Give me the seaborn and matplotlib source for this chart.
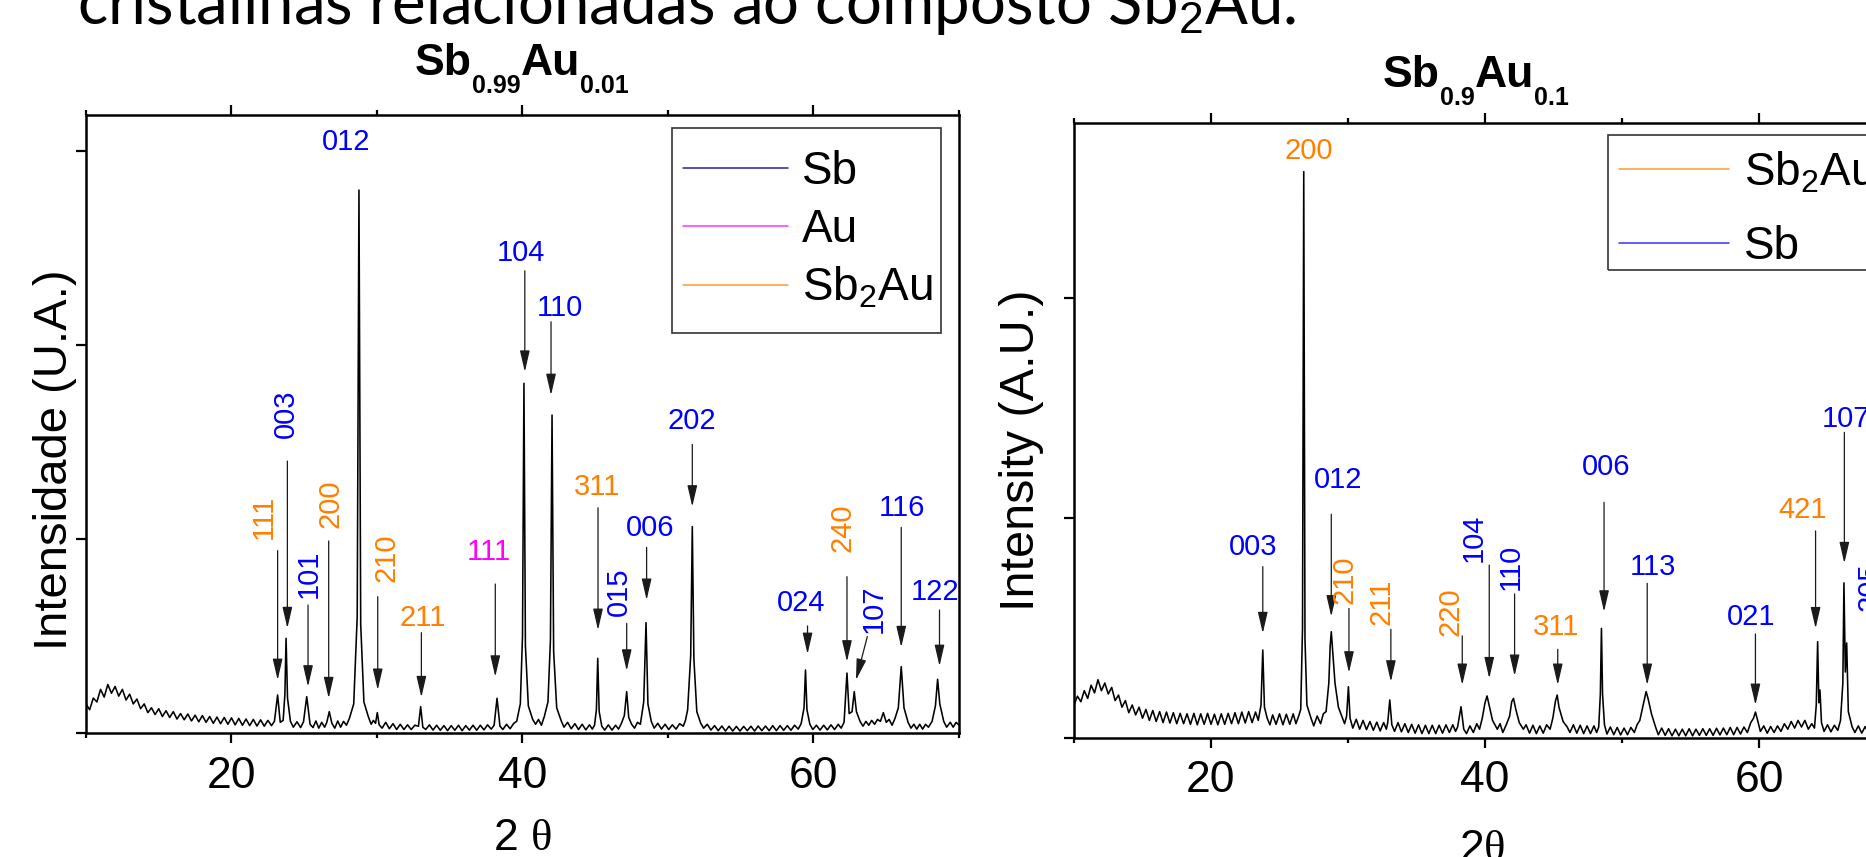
import matplotlib
matplotlib.use("Agg")
import matplotlib.pyplot as plt
from matplotlib.lines import Line2D
from matplotlib.patches import Rectangle
from matplotlib.ticker import NullLocator
import seaborn as sns
import pandas as pd

# ---------------- data: Sb0.99Au0.01 pattern (2theta, intensity) ----------------
left_pattern = [
    (10.0, 150), (10.25, 120), (10.5, 180), (10.75, 160), (11.0, 225), (11.25, 185), (11.5, 250),
    (11.75, 205), (12.0, 240), (12.25, 190), (12.5, 225), (12.75, 170), (13.0, 200), (13.25, 150),
    (13.5, 175), (13.75, 125), (14.0, 150), (14.25, 105), (14.5, 130), (14.75, 95), (15.0, 125),
    (15.25, 85), (15.5, 115), (15.75, 80), (16.0, 110), (16.25, 72), (16.5, 100), (16.75, 68),
    (17.0, 98), (17.25, 62), (17.5, 92), (17.75, 58), (18.0, 90), (18.25, 55), (18.5, 85),
    (18.75, 50), (19.0, 82), (19.25, 48), (19.5, 80), (19.75, 45), (20.0, 78), (20.25, 42),
    (20.5, 75), (20.75, 40), (21.0, 72), (21.25, 38), (21.5, 70), (21.75, 36), (22.0, 68),
    (22.25, 35), (22.5, 65), (22.75, 38),
    (22.95, 60), (23.17, 196), (23.35, 55), (23.55, 65), (23.67, 200), (23.75, 488), (23.85, 180),
    (24.05, 60), (24.25, 30), (24.5, 58), (24.75, 28), (24.95, 58), (25.17, 187), (25.4, 45),
    (25.6, 28), (25.8, 62), (26.0, 25), (26.2, 55), (26.4, 30), (26.55, 55), (26.72, 110), (26.9, 50),
    (27.1, 25), (27.3, 62), (27.5, 30), (27.7, 60), (27.9, 40), (28.1, 75), (28.4, 150), (28.64, 600),
    (28.76, 2799), (28.88, 560), (29.1, 160), (29.4, 85), (29.6, 45), (29.75, 65), (29.9, 50),
    (30.02, 105), (30.15, 42), (30.35, 25), (30.6, 55), (30.85, 22), (31.1, 48), (31.35, 18),
    (31.6, 45), (31.85, 18), (32.1, 42), (32.35, 18), (32.6, 40), (32.85, 35), (33.0, 136), (33.15, 30),
    (33.35, 18), (33.6, 42), (33.85, 15), (34.1, 40), (34.35, 14), (34.6, 38), (34.85, 12), (35.1, 38),
    (35.35, 14), (35.6, 40), (35.85, 12), (36.1, 38), (36.35, 15), (36.6, 40), (36.85, 14), (37.1, 40),
    (37.35, 16), (37.6, 42), (37.85, 20), (38.05, 40), (38.25, 179), (38.45, 35), (38.65, 18),
    (38.9, 45), (39.15, 22), (39.4, 50), (39.6, 60), (39.85, 150), (40.0, 500), (40.1, 1803),
    (40.2, 450), (40.4, 140), (40.7, 70), (40.9, 45), (41.1, 70), (41.3, 40), (41.5, 85),
    (41.75, 160), (41.92, 480), (42.03, 1639), (42.14, 420), (42.35, 130), (42.65, 65), (42.85, 30),
    (43.1, 55), (43.35, 22), (43.6, 48), (43.85, 18), (44.1, 45), (44.35, 16), (44.6, 42), (44.8, 20),
    (44.95, 40), (45.08, 120), (45.17, 385), (45.27, 110), (45.45, 35), (45.65, 15), (45.9, 42),
    (46.15, 15), (46.4, 40), (46.6, 20), (46.8, 50), (47.0, 90), (47.16, 213), (47.3, 80), (47.5, 45),
    (47.7, 25), (47.9, 55), (48.1, 45), (48.33, 160), (48.49, 569), (48.62, 150), (48.85, 60),
    (49.05, 25), (49.3, 50), (49.55, 20), (49.8, 45), (50.05, 18), (50.3, 42), (50.55, 20), (50.8, 48),
    (51.05, 35), (51.2, 65), (51.35, 120), (51.56, 400), (51.67, 1064), (51.78, 380), (51.98, 110),
    (52.25, 50), (52.45, 25), (52.7, 45), (52.95, 15), (53.2, 38), (53.45, 12), (53.7, 36), (53.95, 10),
    (54.2, 35), (54.45, 10), (54.7, 34), (54.95, 10), (55.2, 34), (55.45, 12), (55.7, 35), (55.95, 10),
    (56.2, 36), (56.45, 12), (56.7, 36), (56.95, 12), (57.2, 38), (57.45, 12), (57.7, 38), (57.95, 14),
    (58.2, 38), (58.45, 14), (58.7, 40), (58.95, 20), (59.15, 48), (59.35, 130), (59.45, 325),
    (59.55, 120), (59.75, 45), (59.95, 18), (60.2, 40), (60.45, 15), (60.7, 40), (60.95, 16), (61.2, 42),
    (61.45, 18), (61.7, 45), (61.9, 25), (62.1, 55), (62.3, 309), (62.45, 100), (62.65, 110), (62.8, 213),
    (62.95, 110), (63.2, 60), (63.4, 35), (63.6, 60), (63.8, 40), (64.0, 65), (64.2, 45), (64.4, 70),
    (64.6, 60), (64.8, 105), (65.0, 55), (65.2, 70), (65.4, 40), (65.6, 75), (65.83, 130), (66.03, 342),
    (66.22, 130), (66.5, 55), (66.7, 25), (66.9, 45), (67.1, 20), (67.3, 45), (67.5, 20), (67.7, 45),
    (67.9, 30), (68.15, 60), (68.38, 140), (68.53, 277), (68.68, 150), (68.95, 60), (69.15, 30),
    (69.4, 55), (69.6, 30), (69.8, 55), (70.0, 40)]

# ---------------- data: Sb0.9Au0.1 pattern (2theta, intensity) ----------------
right_pattern = [
    (10.0, 150), (10.25, 190), (10.5, 165), (10.75, 215), (11.0, 180), (11.25, 240), (11.5, 205),
    (11.75, 265), (12.0, 215), (12.25, 250), (12.5, 200), (12.75, 230), (13.0, 170), (13.25, 195),
    (13.5, 140), (13.75, 170), (14.0, 115), (14.25, 150), (14.5, 105), (14.75, 140), (15.0, 90),
    (15.25, 130), (15.5, 80), (15.75, 125), (16.0, 75), (16.25, 120), (16.5, 70), (16.75, 118),
    (17.0, 68), (17.25, 115), (17.5, 65), (17.75, 112), (18.0, 65), (18.25, 110), (18.5, 62),
    (18.75, 112), (19.0, 60), (19.25, 110), (19.5, 62), (19.75, 112), (20.0, 62), (20.25, 108),
    (20.5, 60), (20.75, 110), (21.0, 62), (21.25, 112), (21.5, 65), (21.75, 115), (22.0, 65),
    (22.25, 118), (22.5, 68), (22.75, 120), (23.0, 70), (23.25, 118), (23.45, 80),
    (23.65, 150), (23.78, 400), (23.9, 140), (24.1, 90), (24.3, 60), (24.5, 105), (24.75, 62),
    (25.0, 110), (25.25, 60), (25.5, 108), (25.75, 62), (26.0, 110), (26.2, 65), (26.4, 100),
    (26.55, 130), (26.68, 500), (26.77, 2574), (26.86, 450), (27.0, 150), (27.3, 90), (27.5, 55),
    (27.75, 100), (28.0, 65), (28.2, 110), (28.4, 120), (28.6, 250), (28.7, 420), (28.78, 483),
    (28.9, 380), (29.05, 250), (29.3, 140), (29.6, 90), (29.75, 65), (29.9, 100), (30.03, 233),
    (30.15, 90), (30.35, 45), (30.6, 85), (30.85, 40), (31.1, 80), (31.35, 38), (31.6, 75), (31.85, 35),
    (32.1, 72), (32.35, 32), (32.6, 70), (32.8, 40), (32.9, 70), (33.05, 173), (33.2, 60), (33.4, 30),
    (33.65, 70), (33.9, 28), (34.15, 65), (34.4, 25), (34.65, 62), (34.9, 22), (35.15, 60), (35.4, 20),
    (35.65, 58), (35.9, 20), (36.15, 58), (36.4, 20), (36.65, 58), (36.9, 22), (37.15, 60), (37.4, 25),
    (37.65, 60), (37.85, 30), (38.0, 50), (38.25, 142), (38.45, 40), (38.65, 20), (38.9, 55),
    (39.15, 25), (39.4, 65), (39.6, 40), (39.8, 90), (40.0, 160), (40.15, 191), (40.3, 150),
    (40.55, 80), (40.9, 40), (41.1, 65), (41.3, 25), (41.55, 60), (41.8, 100), (41.95, 165),
    (42.08, 180), (42.25, 130), (42.5, 70), (42.8, 40), (43.0, 60), (43.25, 22), (43.5, 58),
    (43.75, 20), (44.0, 55), (44.25, 22), (44.5, 60), (44.75, 40), (44.95, 90), (45.15, 170),
    (45.27, 195), (45.4, 140), (45.7, 75), (46.0, 50), (46.2, 25), (46.45, 60), (46.7, 22), (46.95, 58),
    (47.2, 20), (47.45, 55), (47.7, 20), (47.95, 55), (48.15, 25), (48.3, 50), (48.42, 200), (48.5, 498),
    (48.58, 200), (48.72, 60), (48.9, 18), (49.15, 50), (49.4, 15), (49.65, 48), (49.9, 14),
    (50.15, 45), (50.4, 15), (50.65, 48), (50.9, 25), (51.1, 60), (51.3, 80), (51.55, 150),
    (51.76, 211), (51.9, 180), (52.15, 110), (52.45, 50), (52.65, 15), (52.9, 45), (53.15, 12),
    (53.4, 42), (53.65, 10), (53.9, 40), (54.15, 10), (54.4, 40), (54.65, 10), (54.9, 42), (55.15, 10),
    (55.4, 40), (55.65, 12), (55.9, 42), (56.15, 12), (56.4, 42), (56.65, 12), (56.9, 44), (57.15, 14),
    (57.4, 45), (57.65, 15), (57.9, 48), (58.15, 15), (58.4, 48), (58.65, 18), (58.9, 50), (59.15, 25),
    (59.4, 70), (59.6, 90), (59.74, 118), (59.9, 80), (60.1, 30), (60.35, 55), (60.6, 22), (60.85, 52),
    (61.1, 25), (61.35, 55), (61.6, 30), (61.85, 65), (62.1, 40), (62.35, 75), (62.6, 45), (62.85, 80),
    (63.1, 50), (63.35, 80), (63.6, 40), (63.85, 65), (64.05, 45), (64.18, 150), (64.28, 438),
    (64.37, 160), (64.45, 218), (64.56, 70), (64.75, 30), (65.0, 60), (65.25, 28), (65.5, 58),
    (65.75, 35), (65.95, 80), (66.12, 250), (66.2, 705), (66.3, 300), (66.4, 432), (66.52, 120),
    (66.8, 50), (67.0, 25), (67.25, 55), (67.5, 22), (67.75, 52), (68.0, 20), (68.25, 50), (68.5, 22),
    (68.75, 50), (69.0, 20), (69.25, 48), (69.5, 22), (69.75, 50), (70.0, 30)]

# ---------------- peak labels ----------------
left_hkl = ["012", "104", "110", "003", "111", "101", "200", "210", "211", "111",
            "311", "015", "006", "202", "024", "240", "107", "116", "122"]
left_phase = ["Sb", "Sb", "Sb", "Sb", "Sb2Au", "Sb", "Sb2Au", "Sb2Au", "Sb2Au", "Au",
              "Sb2Au", "Sb", "Sb", "Sb", "Sb", "Sb2Au", "Sb", "Sb", "Sb"]
right_hkl = ["200", "003", "012", "210", "211", "220", "104", "110", "311", "006",
             "113", "021", "421", "107", "205"]
right_phase = ["Sb2Au", "Sb", "Sb", "Sb2Au", "Sb2Au", "Sb2Au", "Sb", "Sb", "Sb2Au", "Sb",
               "Sb", "Sb", "Sb2Au", "Sb", "Sb"]

left_legend = ["Sb", "Au", r"Sb$_\mathrm{2}$Au"]
right_legend = [r"Sb$_\mathrm{2}$Au", "Sb"]
# title pieces: (text, is_subscript)
left_title = [("Sb", False), ("0.99", True), ("Au", False), ("0.01", True)]
right_title = [("Sb", False), ("0.9", True), ("Au", False), ("0.1", True)]

# ---------------- layout of labels (text x, text y, rotation) and arrows ----------------
left_label_pos = [(27.91, 3048, 0), (39.86, 2473, 0), (42.6, 2189, 0), (23.72, 1644, 90),
    (22.19, 1112, 90), (25.33, 820, 90), (26.82, 1180, 90), (30.67, 902, 90), (33.12, 591, 0),
    (37.7, 933, 0), (45.1, 1270, 0), (46.63, 728, 90), (48.74, 1055, 0), (51.67, 1608, 0),
    (59.14, 668, 0), (61.96, 1060, 90), (64.14, 643, 90), (66.08, 1158, 0), (68.35, 728, 0)]
left_arrows = [None, (40.16, 2383, 40.16, 1862), (41.96, 2120, 41.96, 1742), (23.84, 1402, 23.84, 540),
    (23.17, 940, 23.17, 273), (25.26, 660, 25.26, 239), (26.68, 990, 26.68, 179), (30.05, 703, 30.05, 222),
    (33.05, 517, 33.05, 184), (38.13, 768, 38.13, 290), (45.19, 1161, 45.19, 531), (47.16, 565, 47.16, 321),
    (48.53, 957, 48.53, 686), (51.67, 1488, 51.67, 1167), (59.59, 552, 59.59, 407), (62.3, 806, 62.3, 368),
    (63.7, 497, 62.92, 273), (66.03, 1060, 66.03, 442), (68.66, 634, 68.66, 345)]
right_label_pos = [(27.12, 2670, 0), (23.1, 870, 0), (29.3, 1173, 0), (29.74, 718, 90),
    (32.45, 617, 90), (37.45, 574, 90), (39.18, 908, 90), (41.88, 779, 90), (45.18, 506, 0),
    (48.85, 1233, 0), (52.28, 779, 0), (59.46, 552, 0), (63.21, 1036, 0), (66.35, 1450, 0),
    (68.05, 688, 90)]
right_arrows = [None, (23.78, 779, 23.78, 476), (28.78, 1017, 28.78, 552), (30.07, 589, 30.07, 297),
    (33.13, 494, 33.13, 256), (38.34, 464, 38.34, 241), (40.31, 786, 40.31, 271), (42.16, 655, 42.16, 282),
    (45.31, 403, 45.31, 241), (48.69, 1071, 48.69, 574), (51.84, 703, 51.84, 241), (59.74, 473, 59.74, 150),
    (64.13, 941, 64.13, 498), (66.23, 1389, 66.23, 794), None]

TEXT_COL = {"Sb": "#0000ff", "Sb2Au": "#ff7f00", "Au": "#ff00ff"}

# ---------------- style ----------------
sns.set_theme(style="ticks")
plt.rcParams["font.family"] = ["Liberation Sans", "DejaVu Sans"]
plt.rcParams["mathtext.fontset"] = "custom"
plt.rcParams["mathtext.rm"] = "Liberation Sans"
plt.rcParams["mathtext.bf"] = "Liberation Sans:bold"
plt.rcParams["mathtext.it"] = "Liberation Sans:italic"
plt.rcParams["mathtext.sf"] = "Liberation Serif"
plt.rcParams["axes.edgecolor"] = "black"
plt.rcParams["xtick.color"] = "black"
plt.rcParams["ytick.color"] = "black"
plt.rcParams["text.color"] = "black"

W, H = 1866, 857
fig = plt.figure(figsize=(W / 100, H / 100), dpi=100)


def px_axes(l, r, t, b):
    return fig.add_axes([l / W, 1 - b / H, (r - l) / W, (b - t) / H])


ax1 = px_axes(86, 959, 115, 733)
ax2 = px_axes(1074, 1896, 123, 738)

df_left = pd.DataFrame(left_pattern, columns=["two_theta", "intensity"])
df_right = pd.DataFrame(right_pattern, columns=["two_theta", "intensity"])
sns.lineplot(data=df_left, x="two_theta", y="intensity", ax=ax1, color="black",
             linewidth=1.15, estimator=None, sort=False)
sns.lineplot(data=df_right, x="two_theta", y="intensity", ax=ax2, color="black",
             linewidth=1.15, estimator=None, sort=False)


def style(ax, ytop, yticks):
    ax.set_xlim(10, 70)
    ax.set_ylim(0, ytop)
    ax.set_xticks([20, 40, 60])
    ax.set_xticks([10, 30, 50, 70], minor=True)
    ax.set_yticks(yticks)
    ax.set_yticklabels([])
    ax.yaxis.set_minor_locator(NullLocator())
    ax.tick_params(axis="x", which="both", direction="out", top=True, bottom=True,
                   labeltop=False, width=1.6)
    ax.tick_params(axis="x", which="major", length=7.2, pad=9.0, labelsize=32)
    ax.tick_params(axis="x", which="minor", length=3.6)
    ax.tick_params(axis="y", which="major", direction="out", left=True, right=False,
                   length=7.2, width=1.6)
    for s in ax.spines.values():
        s.set_visible(True)
        s.set_linewidth(1.8)
        s.set_color("black")
    ax.set_xlabel("")
    ax.set_ylabel("")
    ax.grid(False)


style(ax1, 3186, [0, 1000, 2000, 3000])
style(ax2, 2795, [0, 1000, 2000])


def label_peaks(ax, hkl, phase, pos, arrows):
    for s, ph, (tx, ty, rot), arr in zip(hkl, phase, pos, arrows):
        ax.text(tx, ty, s, color=TEXT_COL[ph], fontsize=21, rotation=rot,
                ha="center", va="center")
        if arr is not None:
            ax.annotate("", xy=(arr[2], arr[3]), xytext=(arr[0], arr[1]),
                        arrowprops=dict(arrowstyle="-|>,head_length=1.3,head_width=0.3",
                                        color="#1a1a1a", lw=0.9, shrinkA=0, shrinkB=0,
                                        mutation_scale=10))


label_peaks(ax1, left_hkl, left_phase, left_label_pos, left_arrows)
label_peaks(ax2, right_hkl, right_phase, right_label_pos, right_arrows)

# legends (content) + their frames
h_left = [Line2D([], [], color="#1f1fa8", lw=1.1), Line2D([], [], color="#ff33ff", lw=1.1),
          Line2D([], [], color="#ff9a33", lw=1.1)]
ax1.legend(h_left, left_legend, loc="upper left", bbox_to_anchor=(683 / W, 1 - 150 / H),
           bbox_transform=fig.transFigure, fontsize=33, frameon=False,
           borderpad=0, labelspacing=0.3, handlelength=2.3, handletextpad=0.3,
           borderaxespad=0)
h_right = [Line2D([], [], color="#ff9a33", lw=1.1), Line2D([], [], color="#3333ff", lw=1.1)]
ax2.legend(h_right, right_legend, loc="upper left", bbox_to_anchor=(1619 / W, 1 - 150 / H),
           bbox_transform=fig.transFigure, fontsize=33, frameon=False,
           borderpad=0, labelspacing=0.65, handlelength=2.4, handletextpad=0.33,
           borderaxespad=0)
ax1.add_patch(Rectangle((672 / W, 1 - 333 / H), (941 - 672) / W, (333 - 128) / H,
                        transform=fig.transFigure, fill=False, edgecolor="#333333",
                        linewidth=1.2, clip_on=False))
ax2.add_patch(Rectangle((1608 / W, 1 - 270 / H), (1900 - 1608) / W, (270 - 135) / H,
                        transform=fig.transFigure, fill=False, edgecolor="#333333",
                        linewidth=1.2, clip_on=False))


# titles built from pieces so the subscripts sit low like in the original
def place_title(parts, cx, base, fs_main=32, fs_sub=18, drop=18):
    texts = [fig.text(0, 0, s, fontsize=fs_sub if sub else fs_main, fontweight="bold",
                      ha="left", va="baseline") for s, sub in parts]
    fig.canvas.draw()
    r = fig.canvas.get_renderer()
    widths = [t.get_window_extent(r).width for t in texts]
    x = cx - sum(widths) / 2
    for t, w, (s, sub) in zip(texts, widths, parts):
        t.set_position((x / W, 1 - (base + (drop if sub else 0)) / H))
        x += w


place_title(left_title, 522, 75)
place_title(right_title, 1476, 87)

fig.text(55 / W, 1 - 460 / H, "Intensidade (U.A.)", rotation=90, fontsize=34,
         ha="center", va="center")
fig.text(1022 / W, 1 - 450 / H, "Intensity (A.U.)", rotation=90, fontsize=35,
         ha="center", va="center")
fig.text(522 / W, 1 - 850 / H, r"2 $\mathsf{\theta}$", fontsize=32, ha="center", va="baseline")
fig.text(1482 / W, 1 - 861 / H, r"2$\mathsf{\theta}$", fontsize=32, ha="center", va="baseline")

# slide caption cut at the top
cap = fig.text(77 / W, 1 - 24 / H, r"cristalinas relacionadas ao composto Sb$_\mathrm{2}$Au.",
               fontsize=41, ha="left", va="baseline", family=["Lato", "DejaVu Sans"])
fig.canvas.draw()
bb = cap.get_window_extent()
cap.set_fontsize(41 * 1220 / bb.width)

fig.savefig("out.png", dpi=100)
